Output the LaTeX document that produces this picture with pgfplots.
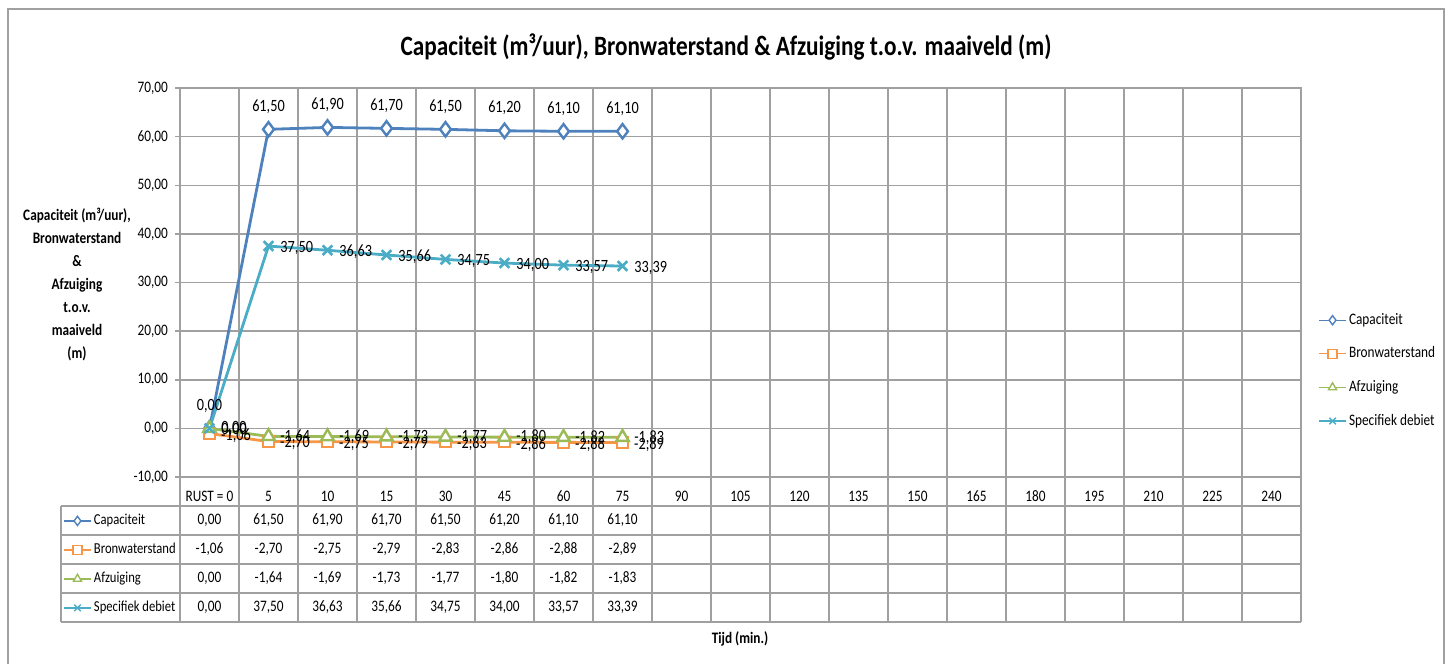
\documentclass[border=0pt]{standalone}
\usepackage{fontspec}
\setmainfont{Carlito}[FakeStretch=0.83]
\usepackage{pgfplots}
\usepackage{pgfplotstable}
\pgfplotsset{compat=1.18}
\definecolor{cCap}{HTML}{4F81BD}
\definecolor{cBron}{HTML}{F79646}
\definecolor{cAfz}{HTML}{9BBB59}
\definecolor{cSpec}{HTML}{4BACC6}
\definecolor{gridc}{HTML}{A0A0A0}
\newcommand{\sfont}{\fontsize{8}{9.6}\selectfont}
\newcommand{\lfont}{\fontsize{8.6}{10}\selectfont}
\newcommand{\tfont}{\fontsize{7.6}{9}\selectfont}

\pgfplotstableread{
x cap bron afz spec
0 0.00 -1.06 0.00 0.00
1 61.50 -2.70 -1.64 37.50
2 61.90 -2.75 -1.69 36.63
3 61.70 -2.79 -1.73 35.66
4 61.50 -2.83 -1.77 34.75
5 61.20 -2.86 -1.80 34.00
6 61.10 -2.88 -1.82 33.57
7 61.10 -2.89 -1.83 33.39
}\data

\pgfplotsset{
  capstyle/.style={cCap, line width=1.4pt, mark=diamond*, mark size=3.6pt, mark options={fill=white, line width=1.2pt}},
  bronstyle/.style={cBron, line width=1.4pt, mark=square*, mark size=2.6pt, mark options={fill=white, line width=1.0pt}},
  afzstyle/.style={cAfz, line width=1.4pt, mark=triangle*, mark size=3.6pt, mark options={fill=white, line width=1.2pt}},
  specstyle/.style={cSpec, line width=1.4pt, mark=x, mark size=3.4pt, mark options={line width=1.3pt}},
  mylegimg/.style={legend image code/.code={\draw[mark repeat=2,mark phase=2, line width=0.6pt, mark size=2.3pt, mark options={fill=white, line width=0.7pt}] plot coordinates {(0pt,0pt)(6.75pt,0pt)(13.5pt,0pt)};}},
}

\begin{document}
\begin{tikzpicture}[x=0.5pt,y=-0.5pt]
\useasboundingbox (0,0) rectangle (1449,664);
\draw[gridc, line width=0.75pt] (8,664)--(8,9)--(1444,9)--(1444,664);
\node[font=\fontsize{14}{16}\selectfont\bfseries] at (726,47) {Capaciteit (m³/uur), Bronwaterstand \& Afzuiging t.o.v. maaiveld (m)};
\node[font=\fontsize{8}{11.5}\selectfont\bfseries, align=center] at (77,284) {Capaciteit (m³/uur),\\Bronwaterstand\\\&\\Afzuiging\\t.o.v.\\maaiveld\\(m)};

\begin{axis}[
  at={(90pt,-238.5pt)}, anchor=south west,
  scale only axis, width=560.5pt, height=194.5pt,
  xmin=-0.5, xmax=18.5, ymin=-10, ymax=70,
  ytick={-10,0,...,70},
  xtick={0,...,18},
  xticklabels={RUST = 0,5,10,15,30,45,60,75,90,105,120,135,150,165,180,195,210,225,240},
  minor xtick={-0.5,0.5,...,18.5},
  xminorgrids, ymajorgrids,
  grid style={gridc, line width=0.75pt},
  minor grid style={gridc, line width=0.75pt},
  axis line style={gridc, line width=0.75pt},
  xtick style={draw=none},
  ytick pos=left, tick align=outside, major tick length=2.5pt,
  ytick style={gridc, line width=0.75pt},
  tick label style={font=\sfont},
  /pgf/number format/assume math mode=true,
  yticklabel style={/pgf/number format/.cd, fixed, fixed zerofill, precision=2, use comma},
  xticklabel style={anchor=center, yshift=-7.25pt},
  clip=false,
  mylegimg,
  legend cell align=left,
  legend style={at={(1.0152,0.4473)}, anchor=north west, draw=none, fill=none, font=\sfont,
    row sep=0pt, inner sep=0pt, nodes={inner xsep=1.2pt, inner ysep=0pt, minimum height=16.8pt}},
  nodes near coords={\pgfmathprintnumber[fixed,fixed zerofill,precision=2,use comma,assume math mode=true]{\pgfplotspointmeta}},
  every node near coord/.append style={font=\lfont, black},
]
\addplot[capstyle, every node near coord/.append style={anchor=south, yshift=4pt}] table[x=x,y=cap]{\data};
\addlegendentry{Capaciteit}
\addplot[bronstyle, every node near coord/.append style={anchor=west, xshift=2pt, yshift=-1pt}] table[x=x,y=bron]{\data};
\addlegendentry{Bronwaterstand}
\addplot[afzstyle, every node near coord/.append style={anchor=west, xshift=2pt}] table[x=x,y=afz]{\data};
\addlegendentry{Afzuiging}
\addplot[specstyle, every node near coord/.append style={anchor=west, xshift=2pt, yshift=-1pt}] table[x=x,y=spec]{\data};
\addlegendentry{Specifiek debiet}
\end{axis}

\begin{axis}[
  at={(90pt,-238.5pt)}, anchor=south west,
  scale only axis, width=560.5pt, height=194.5pt,
  xmin=-0.5, xmax=18.5, ymin=-10, ymax=70,
  hide axis, mylegimg,
  legend cell align=left,
  legend style={at={(-0.1044,-0.07455)}, anchor=north west, draw=none, fill=none, font=\tfont,
    row sep=0pt, inner sep=0pt, nodes={inner xsep=1.2pt, inner ysep=0pt, minimum height=14.5pt}},
]
\addlegendimage{capstyle}\addlegendentry{Capaciteit}
\addlegendimage{bronstyle}\addlegendentry{Bronwaterstand}
\addlegendimage{afzstyle}\addlegendentry{Afzuiging}
\addlegendimage{specstyle}\addlegendentry{Specifiek debiet}
\end{axis}

\foreach \k in {0,...,19} \draw[gridc, line width=0.75pt] ({180+59*\k},477)--({180+59*\k},622);
\foreach \yy in {506,535,564,593,622} \draw[gridc, line width=0.75pt] (61,\yy)--(1301,\yy);
\draw[gridc, line width=0.75pt] (61,506)--(61,622);

\foreach \i in {0,...,7}{
  \foreach \col/\r in {cap/0,bron/1,afz/2,spec/3}{
    \pgfplotstablegetelem{\i}{\col}\of\data
    \let\tabval\pgfplotsretval
    \node[font=\sfont] at ({180+59*(\i+0.5)},{520.5+29*\r}) {\pgfmathprintnumber[fixed,fixed zerofill,precision=2,use comma,assume math mode=true]{\tabval}};
  }
}
\node[font=\sfont\bfseries] at (740,639) {Tijd (min.)};
\end{tikzpicture}
\end{document}
